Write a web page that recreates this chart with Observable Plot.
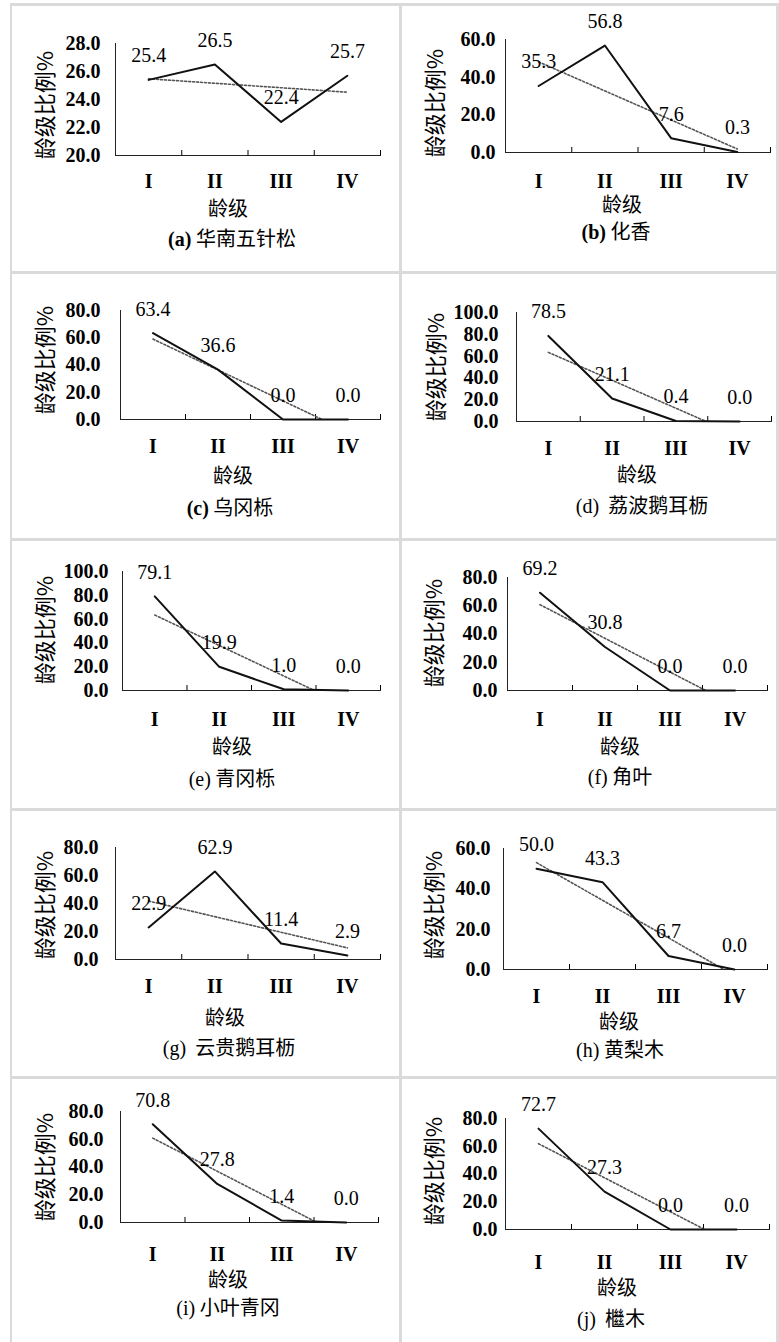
<!DOCTYPE html>
<html><head><meta charset="utf-8">
<script src="https://cdn.jsdelivr.net/npm/d3@7"></script>
<script src="https://cdn.jsdelivr.net/npm/@observablehq/plot@0.6"></script>
<style>
body{margin:0;background:#fff;}
#fig{position:relative;width:779px;height:1342px;overflow:hidden;background:#fff;}
.ln{position:absolute;background:#dadada;}
.txt{position:absolute;transform:translate(-50%,-50%);white-space:nowrap;color:#000;line-height:1;}
.ylab{position:absolute;transform:translate(-50%,-50%) rotate(-90deg);white-space:nowrap;font-family:"Noto Sans CJK SC";font-size:22px;line-height:1;color:#000;}
.ttl{font-family:"Noto Sans CJK SC";font-size:20px;}
.cap{font-family:"Noto Sans CJK SC";font-size:20px;}
.cap .lt{font-family:"Liberation Serif";font-size:20px;}
.cap .lt.b{font-weight:bold;}
.pl{position:absolute;}
</style></head><body><div id="fig"></div><script>
// ---- data ----
const ageClasses = ["I", "II", "III", "IV"];
const panelLetters = ["a", "b", "c", "d", "e", "f", "g", "h", "i", "j"];
const speciesNames = ["华南五针松", "化香", "乌冈栎", "荔波鹅耳枥", "青冈栎", "角叶", "云贵鹅耳枥", "黄梨木", "小叶青冈", "檵木"];
const xTitle = "龄级";
const yTitle = "龄级比例%";

const valuesA = [25.4, 26.5, 22.4, 25.7];
const valuesB = [35.3, 56.8, 7.6, 0.3];
const valuesC = [63.4, 36.6, 0.0, 0.0];
const valuesD = [78.5, 21.1, 0.4, 0.0];
const valuesE = [79.1, 19.9, 1.0, 0.0];
const valuesF = [69.2, 30.8, 0.0, 0.0];
const valuesG = [22.9, 62.9, 11.4, 2.9];
const valuesH = [50.0, 43.3, 6.7, 0.0];
const valuesI = [70.8, 27.8, 1.4, 0.0];
const valuesJ = [72.7, 27.3, 0.0, 0.0];

const yTicksA = [20, 22, 24, 26, 28];
const yTicks60 = [0, 20, 40, 60];
const yTicks80 = [0, 20, 40, 60, 80];
const yTicks100 = [0, 20, 40, 60, 80, 100];

const seriesList = [valuesA, valuesB, valuesC, valuesD, valuesE, valuesF, valuesG, valuesH, valuesI, valuesJ];
const tickList = [yTicksA, yTicks60, yTicks80, yTicks100, yTicks100, yTicks80, yTicks80, yTicks60, yTicks80, yTicks80];

// ---- layout (page pixels) ----
const layout = [
 {box:[11,4,400,272],    ax:115, top:43,   base:155,  right:380, tickEnd:100, cat:180,  title:[228,208],  cap:[232,238],  ylab:[43,105],  sep:" ",  bold:true},
 {box:[400,4,779,272],   ax:505, top:39,   base:152,  right:770, tickEnd:495, cat:180,  title:[622,204],  cap:[616,231],  ylab:[433,103], sep:" ",  bold:true},
 {box:[11,272,400,540],  ax:120, top:310,  base:419,  right:380, tickEnd:100, cat:445,  title:[233,475],  cap:[230,507],  ylab:[43,360],  sep:" ",  bold:true},
 {box:[400,272,779,540], ax:516, top:312,  base:421,  right:771, tickEnd:498, cat:447,  title:[637,474],  cap:[642,505],  ylab:[434,367], sep:"&nbsp; ", bold:false},
 {box:[11,540,400,810],  ax:122, top:571,  base:690,  right:380, tickEnd:108, cat:718,  title:[232,746],  cap:[232,778],  ylab:[43,630],  sep:" ",  bold:false},
 {box:[400,540,779,810], ax:507, top:577,  base:690,  right:767, tickEnd:497, cat:718,  title:[620,746],  cap:[620,776],  ylab:[432,633], sep:" ",  bold:false},
 {box:[11,810,400,1078], ax:115, top:847,  base:959,  right:380, tickEnd:98,  cat:985,  title:[225,1017], cap:[229,1047], ylab:[43,905],  sep:"&nbsp; ", bold:false},
 {box:[400,810,779,1078],ax:503, top:848,  base:969,  right:767, tickEnd:490, cat:995,  title:[619,1021], cap:[620,1049], ylab:[432,905], sep:" ",  bold:false},
 {box:[11,1078,400,1342],ax:120, top:1111, base:1222, right:378, tickEnd:103, cat:1253, title:[228,1279], cap:[228,1307], ylab:[43,1167], sep:" ",  bold:false},
 {box:[400,1078,779,1342],ax:505,top:1118, base:1229, right:769, tickEnd:497, cat:1261, title:[617,1287], cap:[611,1318], ylab:[432,1171], sep:"&nbsp; ", bold:false}
];

const fig = document.getElementById("fig");

// panel border lines
const lines = [
 [10,3,2,1339],[399,3,3,1339],[776,3,3,1339],
 [10,3,769,3],[10,271,769,3],[10,538,769,3],[10,808,769,3],[10,1076,769,3]
];
for (const [x,y,w,h] of lines) {
  const d = document.createElement("div");
  d.className = "ln";
  d.style.cssText = `left:${x}px;top:${y}px;width:${w}px;height:${h}px;`;
  fig.appendChild(d);
}

function addText(cls, x, y, html) {
  const d = document.createElement("div");
  d.className = cls;
  d.style.left = x + "px";
  d.style.top = y + "px";
  d.innerHTML = html;
  fig.appendChild(d);
}

const fmt = d3.format(".1f");

seriesList.forEach((vals, p) => {
  const L = layout[p];
  const [x0, y0, x1, y1] = L.box;
  const ticks = tickList[p];
  const rows = vals.map((v, i) => ({k: i + 1, v}));
  const chart = Plot.plot({
    width: x1 - x0,
    height: y1 - y0,
    marginLeft: L.ax - x0,
    marginRight: x1 - L.right,
    marginTop: L.top - y0,
    marginBottom: y1 - L.base,
    x: {type: "linear", domain: [0.5, 4.5]},
    y: {domain: [ticks[0], ticks[ticks.length - 1]]},
    style: {background: "transparent", fontFamily: "Liberation Serif", color: "#000", overflow: "visible"},
    marks: [
      Plot.axisY({ticks, tickSize: 0, tickPadding: L.ax - L.tickEnd, tickFormat: fmt, fontSize: 20, fontWeight: "bold", label: null}),
      Plot.axisX({ticks: [0.5, 1.5, 2.5, 3.5, 4.5], tickSize: -5, tickFormat: () => "", label: null}),
      Plot.axisX({ticks: [1, 2, 3, 4], tickSize: 0, tickPadding: L.cat - L.base - 7, tickFormat: d => ageClasses[d - 1], fontSize: 20, fontWeight: "bold", label: null}),
      Plot.frame({anchor: "left", stroke: "#222"}),
      Plot.frame({anchor: "bottom", stroke: "#222"}),
      Plot.linearRegressionY(rows, {x: "k", y: "v", ci: 0, stroke: "#555", strokeWidth: 1.6, strokeDasharray: "2,2", clip: true}),
      Plot.line(rows, {x: "k", y: "v", stroke: "#111", strokeWidth: 2}),
      Plot.text(rows, {x: "k", y: "v", text: d => fmt(d.v), dy: -24, fontSize: 20})
    ]
  });
  chart.classList.add("pl");
  chart.style.left = x0 + "px";
  chart.style.top = y0 + "px";
  fig.appendChild(chart);

  addText("ylab", L.ylab[0], L.ylab[1], yTitle);
  addText("txt ttl", L.title[0], L.title[1], xTitle);
  addText("txt cap", L.cap[0], L.cap[1], `<span class="lt${L.bold ? " b" : ""}">(${panelLetters[p]})</span>${L.sep}${speciesNames[p]}`);
});
</script></body></html>
